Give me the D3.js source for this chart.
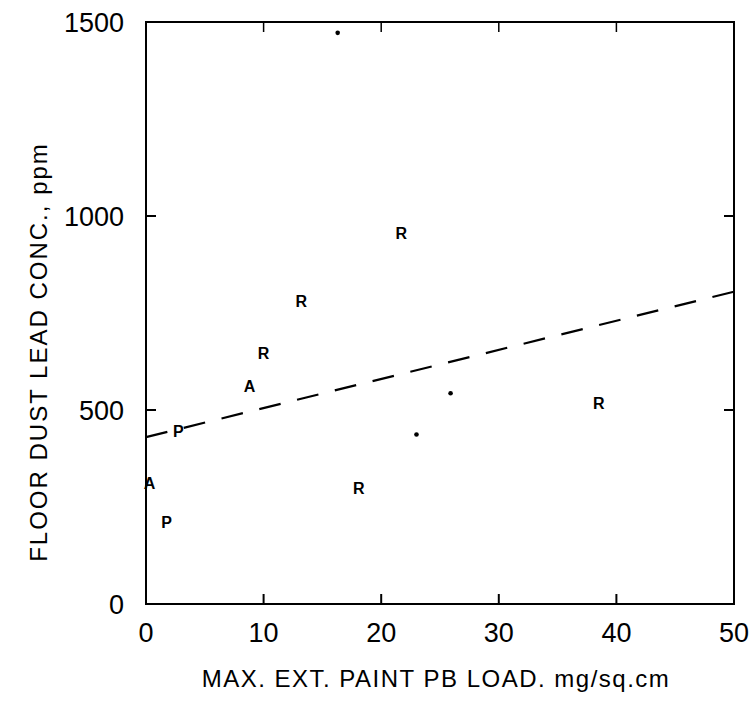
<!DOCTYPE html>
<html>
<head>
<meta charset="utf-8">
<script src="https://cdn.jsdelivr.net/npm/d3@7"></script>
<style>
  body { margin: 0; background: #fff; }
  text { font-family: "Liberation Sans", Arial, sans-serif; fill: #000; }
</style>
</head>
<body>
<svg id="chart" width="756" height="705"></svg>
<script>
// Tick values
const xTicks = [0, 10, 20, 30, 40, 50];
const yTicks = [0, 500, 1000, 1500];

// Points plotted with a letter marker (house type)
const letterX = [2.75, 1.76, 0.3, 8.8, 10.0, 13.2, 21.7, 18.1, 38.5];
const letterY = [447, 212, 312, 563, 648, 780, 956, 299, 519];
const letterCode = ["P", "P", "A", "A", "R", "R", "R", "R", "R"];

// Points plotted with a dot marker
const dotX = [16.3, 23.0, 25.9];
const dotY = [1472, 437, 543];

// Fitted regression line end points
const fitX = [0, 50];
const fitY = [430, 805];

const svg = d3.select("#chart");
const margin = { left: 146, right: 22, top: 22, bottom: 101 };
const width = 756 - margin.left - margin.right;
const height = 705 - margin.top - margin.bottom;

const g = svg.append("g")
    .attr("transform", `translate(${margin.left},${margin.top})`);

const x = d3.scaleLinear().domain([0, 50]).range([0, width]);
const y = d3.scaleLinear().domain([0, 1500]).range([height, 0]);

// Frame
g.append("rect")
    .attr("x", 0).attr("y", 0)
    .attr("width", width).attr("height", height)
    .attr("fill", "none")
    .attr("stroke", "#000")
    .attr("stroke-width", 2);

// Inner ticks on all four sides
const inner = xTicks.slice(1, -1);
const innerY = yTicks.slice(1, -1);
g.selectAll(".tb").data(inner).enter().append("line")
    .attr("x1", d => x(d)).attr("x2", d => x(d))
    .attr("y1", height).attr("y2", height - 10)
    .attr("stroke", "#000").attr("stroke-width", 2);
g.selectAll(".tt").data(inner).enter().append("line")
    .attr("x1", d => x(d)).attr("x2", d => x(d))
    .attr("y1", 0).attr("y2", 10)
    .attr("stroke", "#000").attr("stroke-width", 1.5);
g.selectAll(".tl").data(innerY).enter().append("line")
    .attr("x1", 0).attr("x2", 10)
    .attr("y1", d => y(d)).attr("y2", d => y(d))
    .attr("stroke", "#000").attr("stroke-width", 2);
g.selectAll(".tr").data(innerY).enter().append("line")
    .attr("x1", width).attr("x2", width - 10)
    .attr("y1", d => y(d)).attr("y2", d => y(d))
    .attr("stroke", "#000").attr("stroke-width", 2);

// Tick labels
g.selectAll(".xl").data(xTicks).enter().append("text")
    .attr("x", d => x(d))
    .attr("y", height + 38)
    .attr("text-anchor", "middle")
    .style("font-size", "27px")
    .text(d => d);

g.selectAll(".yl").data(yTicks).enter().append("text")
    .attr("x", -22)
    .attr("y", d => y(d) + 10)
    .attr("text-anchor", "end")
    .style("font-size", "27px")
    .text(d => d);

// Axis titles
svg.append("text")
    .attr("x", 436)
    .attr("y", 687)
    .attr("text-anchor", "middle")
    .style("font-size", "24px")
    .style("letter-spacing", "1.5px")
    .text("MAX. EXT. PAINT PB LOAD. mg/sq.cm");

svg.append("text")
    .attr("transform", "translate(47,352) rotate(-90)")
    .attr("text-anchor", "middle")
    .style("font-size", "24px")
    .style("letter-spacing", "2px")
    .text("FLOOR DUST LEAD CONC., ppm");

// Regression line (dashed)
const fit = fitX.map((d, i) => ({ x: d, y: fitY[i] }));
g.append("path")
    .datum(fit)
    .attr("fill", "none")
    .attr("stroke", "#000")
    .attr("stroke-width", 2.2)
    .attr("stroke-dasharray", "22,16.9")
    .attr("d", d3.line().x(d => x(d.x)).y(d => y(d.y)));

// Letter markers
const letters = letterX.map((d, i) => ({ x: d, y: letterY[i], c: letterCode[i] }));
g.selectAll(".pt").data(letters).enter().append("text")
    .attr("x", d => x(d.x))
    .attr("y", d => y(d.y) + 6)
    .attr("text-anchor", "middle")
    .style("font-size", "16px")
    .style("font-weight", "bold")
    .text(d => d.c);

// Dot markers
const dots = dotX.map((d, i) => ({ x: d, y: dotY[i] }));
g.selectAll(".dot").data(dots).enter().append("circle")
    .attr("cx", d => x(d.x))
    .attr("cy", d => y(d.y))
    .attr("r", 2.3)
    .attr("fill", "#000");
</script>
</body>
</html>
